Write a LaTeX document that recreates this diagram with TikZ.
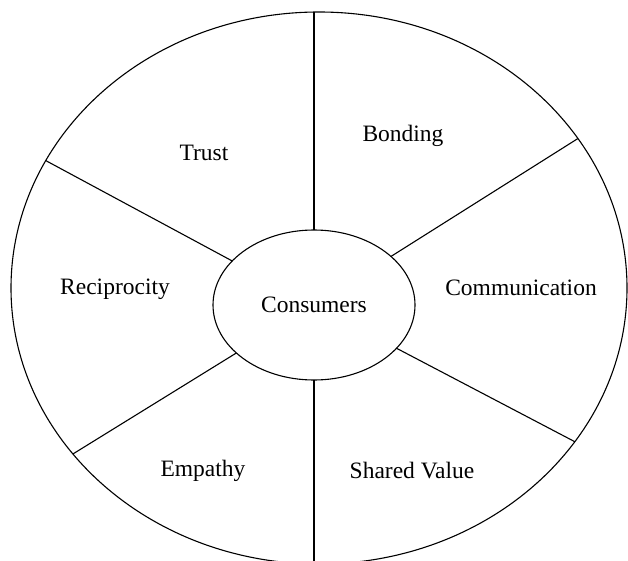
\documentclass[tikz,border=0pt]{standalone}
\usepackage{fontspec}
\setmainfont{Liberation Serif}
\usetikzlibrary{shapes.geometric}
\tikzset{
    ring line/.style={line width=1.1pt, black},
    ring/.style={ring line, draw, ellipse, inner sep=0pt, outer sep=0pt},
    sector label/.style={font=\fontsize{23.5}{28}\selectfont},
}

\begin{document}
\begin{tikzpicture}[x=1pt,y=-1pt]
    \useasboundingbox (0,0) rectangle (628,561);

    % outer ring and the hub
    \node[ring, minimum width=616pt, minimum height=552pt] (outer) at (319,288) {};
    \node[ring, sector label, minimum width=202pt, minimum height=150pt] (consumers) at (314,305) {Consumers};

    % spokes
    \draw[ring line] (consumers.north) -- (consumers.north |- outer.north);
    \draw[ring line] (consumers.south) -- (consumers.south |- outer.south);
    \draw[ring line] (outer.155.7) -- (consumers);
    \draw[ring line] (outer.30.9) -- (consumers);
    \draw[ring line] (outer.-31.2) -- (consumers);
    \draw[ring line] (outer.214) -- (consumers);

    % sector names
    \node[sector label] (trust) at (204,153) {Trust};
    \node[sector label] (bonding) at (403,136) {Bonding};
    \node[sector label] (reciprocity) at (115,289) {Reciprocity};
    \node[sector label] (communication) at (521,288) {Communication};
    \node[sector label] (empathy) at (203,471) {Empathy};
    \node[sector label] (shared) at (412,471) {Shared Value};
\end{tikzpicture}
\end{document}
